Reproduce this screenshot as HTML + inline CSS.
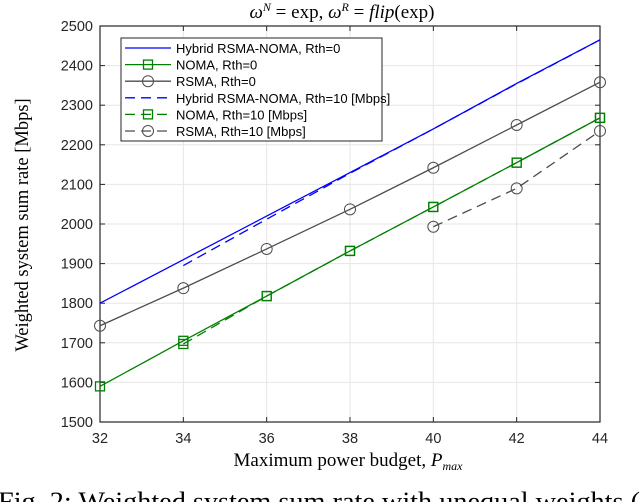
<!DOCTYPE html>
<html><head><meta charset="utf-8"><style>
html,body{margin:0;padding:0;background:#fff;overflow:hidden;width:640px;height:502px}
svg{display:block}
</style></head><body>
<svg id="chart" width="640" height="502" xmlns="http://www.w3.org/2000/svg">
<text x="342" y="18" text-anchor="middle" font-family="Liberation Serif, serif" font-size="19"><tspan font-style="italic">ω</tspan><tspan font-size="12" dy="-7" font-style="italic">N</tspan><tspan dy="7"> = exp, </tspan><tspan font-style="italic">ω</tspan><tspan font-size="12" dy="-7" font-style="italic">R</tspan><tspan dy="7"> = </tspan><tspan font-style="italic">flip</tspan><tspan>(exp)</tspan></text>
<g id="grid"></g><g id="axes"></g><g id="series"></g>
<text x="348" y="466" text-anchor="middle" font-family="Liberation Serif, serif" font-size="19">Maximum power budget, <tspan font-style="italic">P</tspan><tspan font-style="italic" font-size="12" dy="4">max</tspan></text>
<text transform="translate(28,225) rotate(-90)" text-anchor="middle" font-family="Liberation Serif, serif" font-size="18.5">Weighted system sum rate [Mbps]</text>
<text x="-2" y="510" textLength="642" lengthAdjust="spacingAndGlyphs" font-family="Liberation Serif, serif" font-size="26">Fig. 2: Weighted system sum rate with unequal weights (</text>
<g id="legend"></g>
</svg>
<script>
const xTicks=[32,34,36,38,40,42,44];
const yTicks=[1500,1600,1700,1800,1900,2000,2100,2200,2300,2400,2500];
const xHybrid0=[32,34,36,38,40,42,44];
const yHybrid0=[1800,1910,2020,2130,2240,2355,2465];
const xNoma0=[32,34,36,38,40,42,44];
const yNoma0=[1590,1705,1818,1932,2043,2155,2268];
const xRsma0=[32,34,36,38,40,42,44];
const yRsma0=[1743,1838,1937,2037,2142,2250,2358];
const xHybrid10=[34,36,38,40,42,44];
const yHybrid10=[1895,2012,2128,2240,2354,2465];
const xNoma10=[34,36,38,40,42,44];
const yNoma10=[1697,1818,1932,2043,2155,2268];
const xRsma10=[40,42,44];
const yRsma10=[1993,2090,2235];
const L=100,R=600,T=26,B=422;
const sx=v=>L+(v-32)/(44-32)*(R-L);
const sy=v=>B-(v-1500)/(2500-1500)*(B-T);
const NS="http://www.w3.org/2000/svg";
function mk(t,a,p){const e=document.createElementNS(NS,t);for(const k in a)e.setAttribute(k,a[k]);p.appendChild(e);return e;}
const grid=document.getElementById('grid'),axes=document.getElementById('axes'),ser=document.getElementById('series'),leg=document.getElementById('legend');
mk('rect',{x:L,y:T,width:R-L,height:B-T,fill:'#fff'},grid);
xTicks.forEach(v=>{const g=mk('line',{x1:sx(v),x2:sx(v),y1:T,y2:B,stroke:'#e6e6e6'},grid);


const t=mk('text',{x:sx(v),y:B+21,'text-anchor':'middle','font-family':'Liberation Sans, sans-serif','font-size':'14.5',fill:'#262626'},axes);t.textContent=v;


mk('line',{x1:sx(v),x2:sx(v),y1:B,y2:B-5,stroke:'#262626'},axes);mk('line',{x1:sx(v),x2:sx(v),y1:T,y2:T+5,stroke:'#262626'},axes);});
yTicks.forEach(v=>{const g=mk('line',{x1:L,x2:R,y1:sy(v),y2:sy(v),stroke:'#e6e6e6'},grid);


const t=mk('text',{x:L-7,y:sy(v)+5,'text-anchor':'end','font-family':'Liberation Sans, sans-serif','font-size':'14.5',fill:'#262626'},axes);t.textContent=v;


mk('line',{x1:L,x2:L+5,y1:sy(v),y2:sy(v),stroke:'#262626'},axes);mk('line',{x1:R,x2:R-5,y1:sy(v),y2:sy(v),stroke:'#262626'},axes);});
const fr=mk('rect',{x:L,y:T,width:R-L,height:B-T,fill:'none',stroke:'#262626','stroke-width':1.2},axes);


function marker(kind,x,y,c,p){if(kind==='sq')mk('rect',{x:x-4.5,y:y-4.5,width:9,height:9,fill:'none',stroke:c,'stroke-width':1.3},p);else if(kind==='ci')mk('circle',{cx:x,cy:y,r:5.5,fill:'none',stroke:c,'stroke-width':1},p);}
function series(xs,ys,c,dash,m,name){const g=mk('g',{},ser);


mk('polyline',{points:xs.map((x,i)=>sx(x)+','+sy(ys[i])).join(' '),fill:'none',stroke:c,'stroke-width':1.3,'stroke-dasharray':dash?'10,6':'none'},g);
xs.forEach((x,i)=>marker(m,sx(x),sy(ys[i]),c,g));}
series(xHybrid0,yHybrid0,'#0000ff',false,null,'hybrid-rth0-line');
series(xHybrid10,yHybrid10,'#0000ff',true,null,'hybrid-rth10-line');
series(xRsma0,yRsma0,'#4d4d4d',false,'ci','rsma-rth0-line');
series(xRsma10,yRsma10,'#4d4d4d',true,'ci','rsma-rth10-line');
series(xNoma0,yNoma0,'#008000',false,'sq','noma-rth0-line');
series(xNoma10,yNoma10,'#008000',true,'sq','noma-rth10-line');
const lb=mk('rect',{x:121,y:38,width:261,height:103,fill:'#fff',stroke:'#262626','stroke-width':1},leg);


const entries=[['Hybrid RSMA-NOMA, Rth=0','#0000ff',false,null],['NOMA, Rth=0','#008000',false,'sq'],['RSMA, Rth=0','#4d4d4d',false,'ci'],['Hybrid RSMA-NOMA, Rth=10 [Mbps]','#0000ff',true,null],['NOMA, Rth=10 [Mbps]','#008000',true,'sq'],['RSMA, Rth=10 [Mbps]','#4d4d4d',true,'ci']];
entries.forEach((e,i)=>{const y=48+i*16.6;const g=mk('g',{},leg);


mk('line',{x1:125,x2:171,y1:y,y2:y,stroke:e[1],'stroke-width':1.3,'stroke-dasharray':e[2]?'10,6':'none'},g);
marker(e[3],148,y,e[1],g);
const t=mk('text',{x:176,y:y+5,'font-family':'Liberation Sans, sans-serif','font-size':'13',fill:'#000'},g);t.textContent=e[0];});
</script>
</body></html>
